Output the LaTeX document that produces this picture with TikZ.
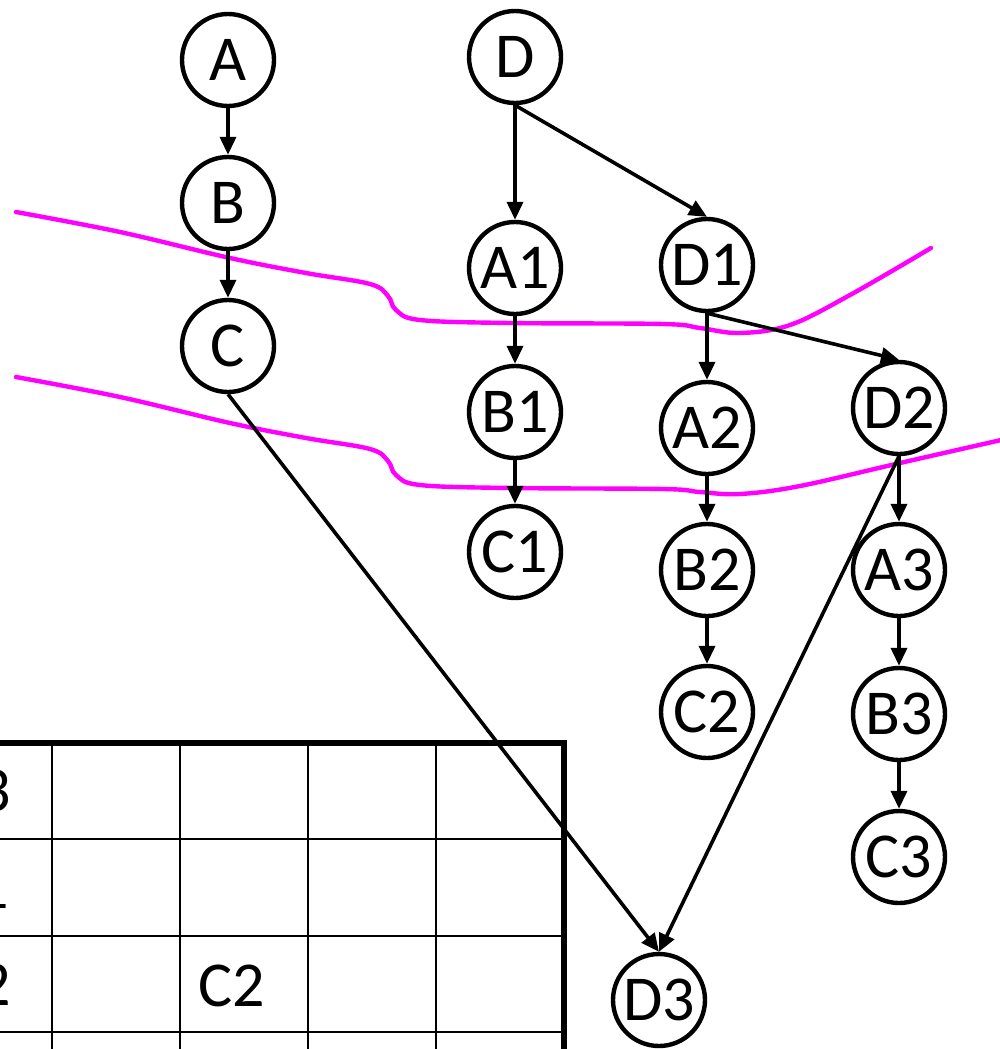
\documentclass[tikz,border=0pt]{standalone}
\usepackage{fontspec}
\setmainfont{Carlito}
\usetikzlibrary{arrows.meta}
\definecolor{cutpink}{RGB}{255,0,255}
\begin{document}
\begin{tikzpicture}[x=0.5pt,y=-0.5pt,
    state/.style={circle,draw,line width=2.2pt,minimum size=46pt,inner sep=0pt,font=\fontsize{32}{38}\selectfont},
    edge/.style={line width=1.8pt,-{Triangle[length=9pt,width=8pt]}},
    cut/.style={cutpink,line width=2.2pt,line cap=round},
    cell/.style={inner sep=0pt,font=\fontsize{32}{38}\selectfont}]
    \useasboundingbox (0,0) rectangle (1000,1049);
    \clip (0,0) rectangle (1000,1049);
    % table
    \foreach \x in {52,180,308,436}
        \draw[line width=1.4pt] (\x,743) -- (\x,1129);
    \foreach \y in {839,936,1032}
        \draw[line width=1.4pt] (-78,\y) -- (564,\y);
    \draw[line width=3pt] (-78,743) rectangle (564,1129);
    \node[cell,anchor=east] (r3) at (11,791) {3};
    \node[cell,anchor=east] (r1) at (9,888) {1};
    \node[cell,anchor=east] (r2) at (11,985) {2};
    \node[cell] (c2cell) at (232,986) {C2};
    % cuts
    \draw[cut] plot[smooth,tension=0.6] coordinates {(16,212) (120,232) (230,258) (306,273) (370,284) (388,296) (396,310) (420,320) (510,323) (663,324) (700,328) (740,333) (790,325) (850,295) (931,248)};
    \draw[cut] plot[smooth,tension=0.6] coordinates {(16,377) (120,397) (230,423) (306,438) (370,449) (388,461) (396,475) (420,485) (510,488) (663,489) (700,492) (740,494) (800,486) (900,463) (1010,438)};
    % nodes
    \node[state] (A) at (228,60) {A};
    \node[state] (B) at (228,203) {B};
    \node[state] (C) at (228,346) {C};
    \node[state] (D) at (515,57) {D};
    \node[state] (A1) at (515,268) {A1};
    \node[state] (B1) at (515,412) {B1};
    \node[state] (C1) at (515,552) {C1};
    \node[state] (D1) at (707,265) {D1};
    \node[state] (A2) at (707,428) {A2};
    \node[state] (B2) at (707,570) {B2};
    \node[state] (C2) at (707,712) {C2};
    \node[state] (D2) at (899,408) {D2};
    \node[state] (A3) at (899,570) {A3};
    \node[state] (B3) at (899,714) {B3};
    \node[state] (C3) at (899,857) {C3};
    \node[state] (D3) at (659,1000) {D3};
    % edges
    \foreach \a/\b in {A/B,B/C,D/A1,D/D1,A1/B1,B1/C1,D1/A2,D1/D2,A2/B2,B2/C2,D2/A3,A3/B3,B3/C3,C/D3,D2/D3}
        \draw[edge] (\a.south) -- (\b.north);
\end{tikzpicture}
\end{document}
